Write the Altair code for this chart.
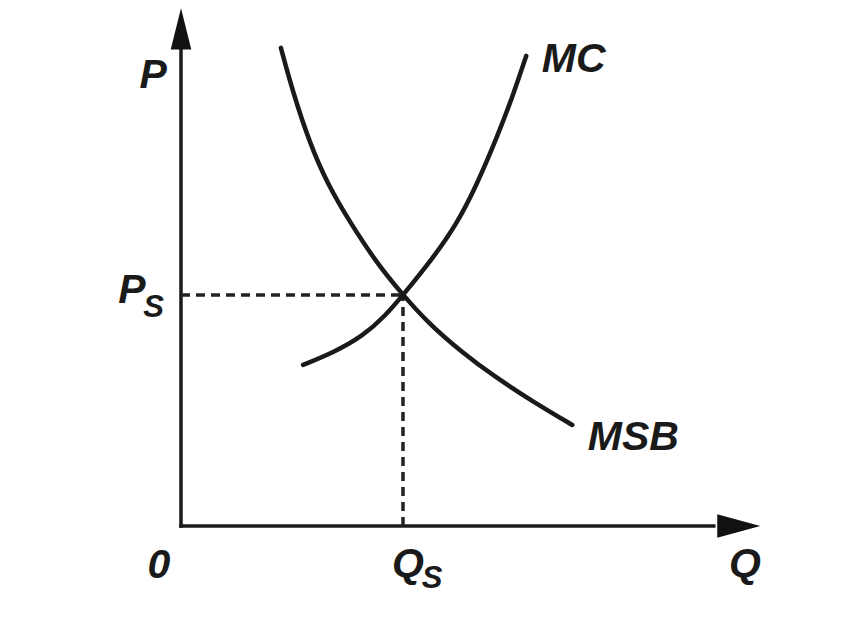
import altair as alt
import pandas as pd

# ---- data (Q, P in diagram units; equilibrium at Qs = 4, Ps = 4) ----
msb_q = [1.80, 2.02, 2.32, 2.63, 3.05, 3.53, 4.00, 4.45, 5.06, 5.66, 6.38, 7.05]
msb_p = [8.28, 7.50, 6.63, 5.94, 5.25, 4.55, 4.00, 3.52, 3.01, 2.58, 2.13, 1.75]

mc_q = [2.20, 2.74, 3.28, 3.68, 4.00, 4.54, 4.97, 5.33, 5.69, 5.98, 6.22]
mc_p = [2.79, 3.00, 3.29, 3.64, 4.00, 4.64, 5.23, 5.91, 6.72, 7.45, 8.14]

q_eq = 4.0
p_eq = 4.0

# axis extents
axis_q_end = 9.6
axis_p_end = 8.4

# labels
main_labels = ["P", "MC", "MSB", "Q", "0", "P", "Q"]
main_q = [-0.50, 6.50, 7.33, 10.16, -0.40, -1.13, 3.80]
main_p = [7.58, 7.86, 1.32, -0.88, -0.90, 3.86, -0.88]
main_align = ["center", "left", "left", "center", "center", "left", "left"]

sub_labels = ["S", "S"]
sub_q = [-0.68, 4.34]
sub_p = [3.62, -1.07]

# ---- scales (plot area is 837 x 608) ----
xs = alt.Scale(domain=[-3.117, 11.964], nice=False, zero=False)
ys = alt.Scale(domain=[-1.558, 8.970], nice=False, zero=False)

def X(f="q"):
    return alt.X(f"{f}:Q", scale=xs, axis=None)

def Y(f="p"):
    return alt.Y(f"{f}:Q", scale=ys, axis=None)

msb_df = pd.DataFrame({"q": msb_q, "p": msb_p})
mc_df = pd.DataFrame({"q": mc_q, "p": mc_p})

ink = "#1a1a1a"

msb = alt.Chart(msb_df).mark_line(color=ink, strokeWidth=4.5, interpolate="basis",
                                  strokeCap="round").encode(x=X(), y=Y(), order="q:Q")
mc = alt.Chart(mc_df).mark_line(color=ink, strokeWidth=4.5, interpolate="basis",
                                strokeCap="round").encode(x=X(), y=Y(), order="q:Q")

# axes
axes_df = pd.DataFrame({"q": [0, 0], "p": [0, 0], "q2": [axis_q_end, 0], "p2": [0, axis_p_end]})
axes = alt.Chart(axes_df).mark_rule(color=ink, strokeWidth=3.5, strokeCap="square").encode(
    x=X(), y=Y(), x2="q2:Q", y2="p2:Q")

up_arrow = alt.Chart(pd.DataFrame({"q": [0], "p": [8.61]})).mark_point(
    shape="M0,-1L0.5,1L-0.5,1Z", size=1700, filled=True, color="#111111", opacity=1).encode(
    x=X(), y=Y())
right_arrow = alt.Chart(pd.DataFrame({"q": [10.05], "p": [0.0]})).mark_point(
    shape="M1,0L-1,-0.55L-1,0.55Z", size=1850, filled=True, color="#111111", opacity=1).encode(
    x=X(), y=Y())

# dashed guides
dash_df = pd.DataFrame({"q": [0, q_eq], "p": [p_eq, 0], "q2": [q_eq, q_eq], "p2": [p_eq, p_eq]})
dashes = alt.Chart(dash_df).mark_rule(color="#222222", strokeWidth=3.5, strokeDash=[9, 6]).encode(
    x=X(), y=Y(), x2="q2:Q", y2="p2:Q")

lab_df = pd.DataFrame({"t": main_labels, "q": main_q, "p": main_p, "a": main_align})
font = "Liberation Sans"
labs_c = alt.Chart(lab_df[lab_df.a == "center"]).mark_text(
    font=font, fontSize=41, fontStyle="italic", fontWeight="bold", align="center",
    baseline="alphabetic", color=ink).encode(x=X(), y=Y(), text="t:N")
labs_l = alt.Chart(lab_df[lab_df.a == "left"]).mark_text(
    font=font, fontSize=41, fontStyle="italic", fontWeight="bold", align="left",
    baseline="alphabetic", color=ink).encode(x=X(), y=Y(), text="t:N")
subs = alt.Chart(pd.DataFrame({"t": sub_labels, "q": sub_q, "p": sub_p})).mark_text(
    font=font, fontSize=31, fontStyle="italic", fontWeight="bold", align="left",
    baseline="alphabetic", color=ink).encode(x=X(), y=Y(), text="t:N")

chart = alt.layer(axes, dashes, msb, mc, up_arrow, right_arrow, labs_c, labs_l, subs).properties(
    width=837, height=608, padding=0, autosize=alt.AutoSizeParams(type="none"),
    background="white"
).configure_view(stroke=None)

chart.save("out.html", embed_options={"renderer": "svg", "actions": False})
